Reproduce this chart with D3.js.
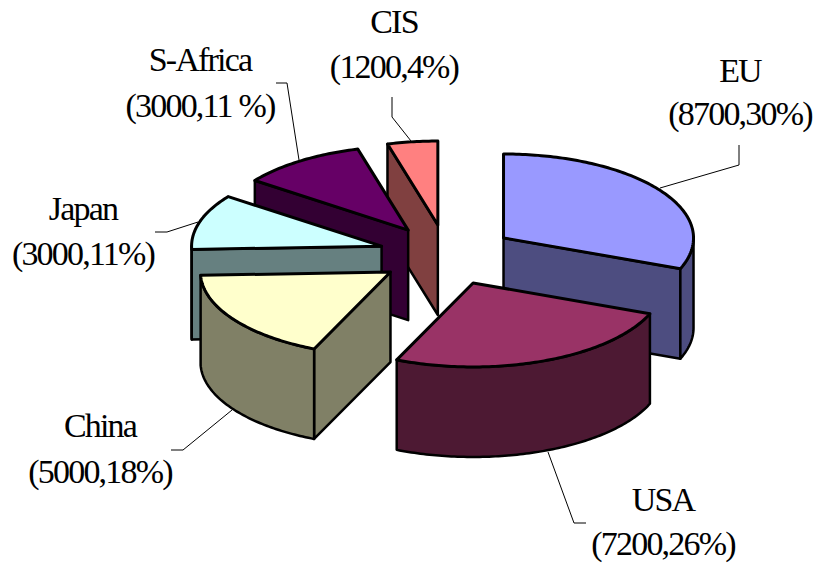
<!DOCTYPE html>
<html>
<head>
<meta charset="utf-8">
<script src="https://cdnjs.cloudflare.com/ajax/libs/d3/7.8.5/d3.min.js"></script>
<style>
html, body { margin: 0; padding: 0; background: #fff; }
svg { display: block; }
text { font-family: "Liberation Serif", serif; font-size: 34px; fill: #000; letter-spacing: -1.8px; }
</style>
</head>
<body>
<svg></svg>
<script>
const CATEGORIES = ["EU", "USA", "China", "Japan", "S-Africa", "CIS"];
const VALUES = [8700, 7200, 5000, 3000, 3000, 1200];
const PERCENT_LABELS = ["30%", "26%", "18%", "11%", "11 %", "4%"];
const TOP_COLORS = ["#9999ff", "#993366", "#ffffcc", "#ccffff", "#660066", "#ff8080"];
const SIDE_COLORS = ["#4d4d80", "#4d1933", "#808066", "#668080", "#330033", "#804040"];

const WIDTH = 814, HEIGHT = 565;
const CENTER = {x: 447, y: 255};
const RADIUS = {x: 190, y: 84};
const DEPTH = 90;
const EXPLODE = 0.36;

// where each label sits, and its leader line
const LABEL_SPOTS = {
    "EU":       {x: 740, y1: 82,  y2: 125, leader: [[739,145],[739,165],[660,188]]},
    "USA":      {x: 663, y1: 511, y2: 555, leader: [[586,523],[574,523],[548,452]]},
    "China":    {x: 100, y1: 437, y2: 483, leader: [[171,450],[183,450],[232,410]]},
    "Japan":    {x: 83,  y1: 220, y2: 265, leader: [[155,232],[167,232],[198,222]]},
    "S-Africa": {x: 200, y1: 71,  y2: 117, leader: [[276,83],[287,83],[299,160]]},
    "CIS":      {x: 394, y1: 33,  y2: 78,  leader: [[392,97],[392,117],[411,141]]}
};

// unit circle -> flattened screen coordinates
const xs = d3.scaleLinear().domain([-1, 1]).range([CENTER.x - RADIUS.x, CENTER.x + RADIUS.x]);
const ys = d3.scaleLinear().domain([-1, 1]).range([CENTER.y - RADIUS.y, CENTER.y + RADIUS.y]);
const color_top = d3.scaleOrdinal(CATEGORIES, TOP_COLORS);
const color_side = d3.scaleOrdinal(CATEGORIES, SIDE_COLORS);

const pie = d3.pie().sort(null);
const slices = pie(VALUES).map((d, i) => {
    const mid = (d.startAngle + d.endAngle) / 2;
    return {
        name: CATEGORIES[i],
        value: VALUES[i],
        percent: PERCENT_LABELS[i],
        a0: d.startAngle,
        a1: d.endAngle,
        ox: EXPLODE * Math.sin(mid),
        oy: -EXPLODE * Math.cos(mid)
    };
});

const line = d3.line();

function rim(s, a, drop) {
    return [xs(s.ox + Math.sin(a)), ys(s.oy - Math.cos(a)) + drop];
}
function apex(s, drop) {
    return [xs(s.ox), ys(s.oy) + drop];
}
function arc_points(s, a0, a1, drop) {
    const n = Math.max(2, Math.ceil((a1 - a0) * 60));
    return d3.range(n + 1).map(k => rim(s, a0 + (a1 - a0) * k / n, drop));
}

const svg = d3.select("svg").attr("width", WIDTH).attr("height", HEIGHT);
const chart = svg.append("g")
    .attr("stroke", "#000")
    .attr("stroke-linejoin", "round");

// back slices first
const order = slices.slice().sort((a, b) => d3.ascending(a.oy, b.oy));

order.forEach(s => {
    const g = chart.append("g").attr("class", "slice");
    const side = color_side(s.name);

    // flat cut faces, only the ones looking towards us
    const cuts = [];
    if (Math.sin(s.a0) < 0) cuts.push(s.a0);
    if (Math.sin(s.a1) > 0) cuts.push(s.a1);
    cuts.forEach(a => {
        const p = [apex(s, 0), rim(s, a, 0), rim(s, a, DEPTH), apex(s, DEPTH)];
        g.append("path")
            .attr("d", line(p) + "Z")
            .attr("fill", side)
            .attr("stroke-width", 2.5);
    });

    // outer wall, front half of the rim only
    const w0 = Math.max(s.a0, Math.PI / 2), w1 = Math.min(s.a1, Math.PI * 1.5);
    if (w1 > w0) {
        const p = arc_points(s, w0, w1, 0).concat(arc_points(s, w0, w1, DEPTH).reverse());
        g.append("path")
            .attr("d", line(p) + "Z")
            .attr("fill", side)
            .attr("stroke-width", 2.5);
    }

    // top
    g.append("path")
        .attr("d", line([apex(s, 0)].concat(arc_points(s, s.a0, s.a1, 0))) + "Z")
        .attr("fill", color_top(s.name))
        .attr("stroke-width", 3);
});

const labels = svg.append("g");

slices.forEach(s => {
    const spot = LABEL_SPOTS[s.name];
    labels.append("path")
        .attr("d", line(spot.leader))
        .attr("fill", "none")
        .attr("stroke", "#000")
        .attr("stroke-width", 1);
    labels.append("text")
        .attr("x", spot.x).attr("y", spot.y1)
        .attr("text-anchor", "middle")
        .text(s.name);
    labels.append("text")
        .attr("x", spot.x).attr("y", spot.y2)
        .attr("text-anchor", "middle")
        .text(`(${s.value},${s.percent})`);
});
</script>
</body>
</html>
